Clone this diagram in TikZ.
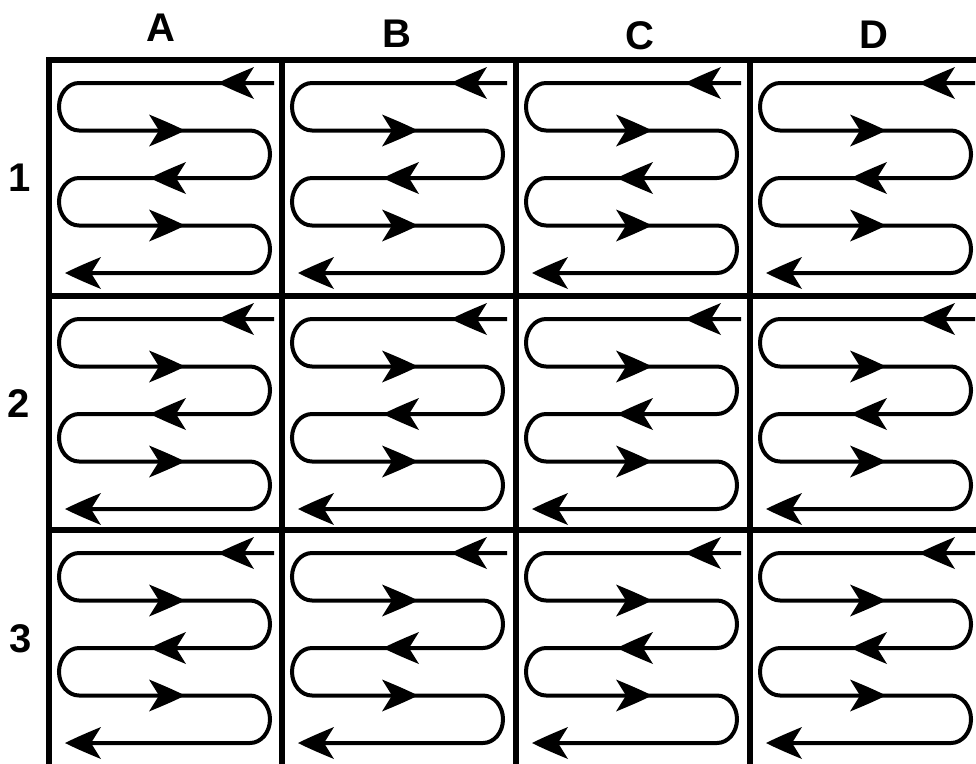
\documentclass[tikz,border=0pt]{standalone}
\usepackage{fontspec}
\setmainfont{Liberation Sans}
\tikzset{
  gridline/.style={line width=5.5pt, line cap=rect},
  snakeline/.style={line width=4pt},
  loopL/.style={start angle=90, end angle=270, x radius=20pt, y radius=23.75pt},
  loopR/.style={start angle=90, end angle=-90, x radius=20pt, y radius=23.75pt},
  headL/.pic={\fill (0,0) .. controls (13,-6.5) and (24,-11) .. (36,-16)
     .. controls (31,-8) .. (26,0) .. controls (31,8) .. (36,16)
     .. controls (24,11) and (13,6.5) .. (0,0) -- cycle;},
  lbl/.style={inner sep=0pt, font=\fontsize{40}{42}\selectfont\bfseries}
}
\begin{document}
\begin{tikzpicture}[x=1pt, y=-1pt]
\useasboundingbox (0,0) rectangle (976,763);
\clip (0,0) rectangle (976,763);
\fill[white] (0,0) rectangle (976,763);
% labels
\node[lbl] (la) at (161,27.5) {A};
\node[lbl] (lb) at (396.5,33.5) {B};
\node[lbl] (lc) at (640,35.5) {C};
\node[lbl] (ld) at (873.5,35) {D};
\node[lbl] (l1) at (20,177.5) {1};
\node[lbl] (l2) at (19,404) {2};
\node[lbl] (l3) at (21,639) {3};
% grid
\foreach \yy in {60,296,530} \draw[gridline] (49,\yy) -- (1000,\yy);
\foreach \xx in {49,282,516,750} \draw[gridline] (\xx,60) -- (\xx,800);
% serpentines
\foreach \X in {49,282,516,750} {
  \foreach \Y in {60,296,530} {
    \begin{scope}[shift={(\X,\Y)}]
      \draw[snakeline] (225,23) -- (30,23) arc[loopL] -- (201,70.5) arc[loopR]
        -- (30,118) arc[loopL] -- (201,165.5) arc[loopR] -- (36,213);
      \pic at (169,23) {headL};
      \pic[xscale=-1] at (136,70.5) {headL};
      \pic at (101,118) {headL};
      \pic[xscale=-1] at (136,165.5) {headL};
      \pic at (16,213) {headL};
    \end{scope}
  }
}
\end{tikzpicture}
\end{document}
